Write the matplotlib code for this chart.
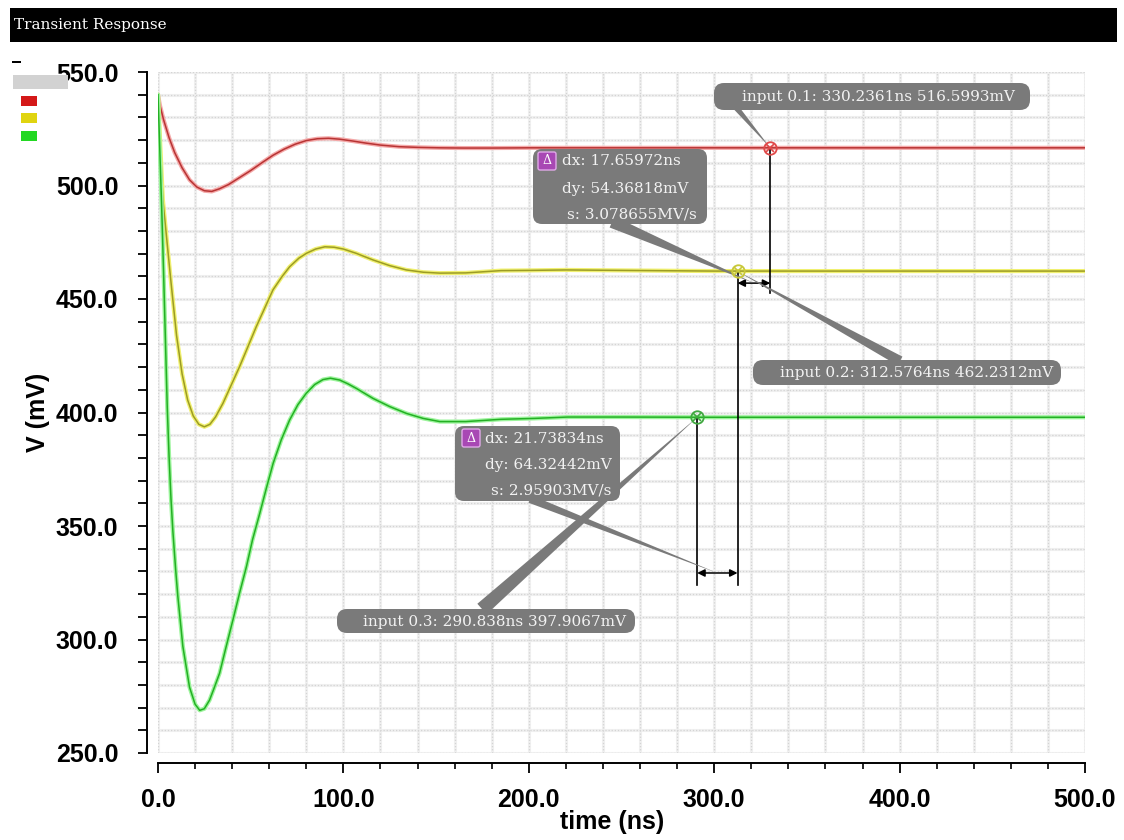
import numpy as np
import matplotlib
matplotlib.use("Agg")
import matplotlib.pyplot as plt
from matplotlib.patches import FancyBboxPatch, Polygon, Rectangle
from matplotlib.transforms import Affine2D

W, H = 1124, 840

# transient response traces (time in ns, V in mV)
t_red = [0, 1, 3, 6, 9, 13, 17, 21, 25, 29, 33, 38, 44, 50, 56, 62, 68, 74, 80,
         86, 92, 98, 105, 112, 120, 130, 140, 152, 165, 180, 200, 230, 260, 300,
         350, 400, 450, 500]
v_red = [540.0, 535.5, 529.0, 521.0, 514.5, 507.8, 502.5, 499.3, 497.7, 497.4,
         498.5, 500.4, 503.5, 506.6, 510.0, 513.3, 516.0, 518.2, 519.8, 520.6,
         520.8, 520.4, 519.6, 518.7, 517.8, 517.1, 516.8, 516.6, 516.5, 516.5,
         516.6, 516.6, 516.6, 516.6, 516.6, 516.6, 516.6, 516.6]

t_yel = [0, 1, 2.6, 4.4, 7, 10, 13, 16, 19, 22, 25, 28, 31, 35, 40, 44, 48, 53,
         58, 62, 67, 71, 76, 80, 85, 90, 95, 100, 107, 116, 125, 134, 143, 152,
         166, 185, 200, 220, 250, 300, 350, 400, 450, 500]
v_yel = [540.0, 522.0, 494.0, 479.0, 457.5, 434.0, 417.0, 405.5, 398.5, 394.8,
         393.7, 394.8, 398.0, 404.0, 413.0, 420.2, 428.0, 437.8, 446.8, 454.0,
         460.0, 464.2, 468.0, 470.1, 472.0, 473.0, 472.8, 472.0, 470.1, 467.2,
         464.7, 462.8, 461.8, 461.4, 461.5, 462.5, 462.6, 462.8, 462.6, 462.3,
         462.3, 462.3, 462.3, 462.3]

t_grn = [0, 1, 2, 3, 4, 5, 6, 7, 8, 9.5, 10.7, 13.4, 17, 20, 22.5, 25, 27.8, 30,
         33.2, 36.5, 40.4, 44, 47.7, 51, 54.9, 58.5, 62.1, 66.5, 71, 75.5, 80,
         84.5, 89, 93, 98, 102.5, 107, 111.5, 116, 125, 134, 143, 152, 166, 185,
         203, 221, 250, 300, 350, 400, 450, 500]
v_grn = [540.0, 515.0, 490.0, 462.0, 432.0, 402.0, 380.0, 362.0, 348.0, 331.0,
         319.0, 297.0, 279.0, 271.5, 268.8, 269.5, 273.3, 278.0, 285.1, 296.0,
         308.6, 320.5, 332.1, 344.0, 355.6, 366.8, 377.6, 388.0, 396.7, 403.5,
         408.5, 412.3, 414.5, 415.1, 414.3, 412.6, 410.6, 408.4, 406.2, 402.6,
         399.6, 397.4, 396.0, 396.0, 397.0, 397.4, 398.0, 398.0, 397.9, 397.9,
         397.9, 397.9, 397.9]

# cursor points and their readouts
cursor_t = [330.2361, 312.5764, 290.838]
cursor_v = [516.5993, 462.2312, 397.9067]
cursor_labels = ["input 0.1: 330.2361ns 516.5993mV",
                 "input 0.2: 312.5764ns 462.2312mV",
                 "input 0.3: 290.838ns 397.9067mV"]
delta_top = ["dx: 17.65972ns", "dy: 54.36818mV", "s: 3.078655MV/s"]
delta_bot = ["dx: 21.73834ns", "dy: 64.32442mV", "s: 2.95903MV/s"]

x_ticks = [0, 100, 200, 300, 400, 500]
y_ticks = [250, 300, 350, 400, 450, 500, 550]

plt.rcParams['font.family'] = ['Liberation Sans', 'DejaVu Sans']

fig = plt.figure(figsize=(W / 100, H / 100), dpi=100)
fig.patch.set_facecolor("white")
ax = fig.add_axes([158 / W, 1 - 753 / H, (1085 - 158) / W, (753 - 72) / H])
ax.set_xlim(0, 500)
ax.set_ylim(250, 550)

# pixel coords of the screenshot (origin top-left)
pix = Affine2D().scale(1 / W, -1 / H).translate(0, 1) + fig.transFigure


def to_pix(t, v):
    return pix.inverted().transform(ax.transData.transform((t, v)))


# grid: light solid under a dotted line, every 20 ns / 10 mV
gx = np.arange(0, 501, 20)
gy = np.arange(250, 551, 10)
ax.vlines(gx, 250, 550, color="#f0f0f0", lw=2.2, zorder=0)
ax.hlines(gy, 0, 500, color="#f0f0f0", lw=2.2, zorder=0)
ax.vlines(gx, 250, 550, color="#d4d4d4", lw=0.9, ls=(0, (1, 1.5)), zorder=0)
ax.hlines(gy, 0, 500, color="#d4d4d4", lw=0.9, ls=(0, (1, 1.5)), zorder=0)

# traces with a soft halo
traces = [(t_red, v_red, "#f4a8a8", "#b83434"),
          (t_yel, v_yel, "#f0f070", "#9c9c24"),
          (t_grn, v_grn, "#9cf49c", "#24b024")]
for t, v, halo, core in traces:
    ax.plot(t, v, color=halo, lw=3.0, zorder=2, solid_capstyle="round")
    ax.plot(t, v, color=core, lw=1.1, zorder=2)

# axes styling
for s in ("top", "right"):
    ax.spines[s].set_visible(False)
ax.spines["left"].set_position(("outward", 8))
ax.spines["bottom"].set_position(("outward", 7))
ax.spines["left"].set_linewidth(1.4)
ax.spines["bottom"].set_linewidth(1.4)

ax.set_xticks(x_ticks)
ax.set_xticks(gx, minor=True)
ax.set_yticks(y_ticks)
ax.set_yticks(gy, minor=True)
ax.set_xticklabels([f"{x:.1f}" for x in x_ticks])
ax.set_yticklabels([f"{y:.1f}" for y in y_ticks])
ax.tick_params(axis="x", which="major", length=7, width=1.3, pad=11,
               labelsize=18)
ax.tick_params(axis="x", which="minor", length=4.5, width=1.2)
ax.tick_params(axis="y", which="both", length=6.5, width=1.3)
ax.tick_params(axis="y", which="major", pad=14, labelsize=18)
for lbl in ax.get_xticklabels() + ax.get_yticklabels():
    lbl.set_fontweight("bold")

ax.set_xlabel("time (ns)", fontsize=18, fontweight="bold")
ax.set_ylabel("V (mV)", fontsize=18, fontweight="bold")
ax.xaxis.set_label_coords(0.49, -0.084)
ax.yaxis.set_label_coords(-0.116, 0.5)

# cursor lines and delta arrows
ax.plot([cursor_t[0]] * 2, [cursor_v[0], 452.6], color="black", lw=1.2, zorder=3)
ax.plot([cursor_t[1]] * 2, [cursor_v[1], 324.0], color="black", lw=1.2, zorder=3)
ax.plot([cursor_t[2]] * 2, [cursor_v[2], 324.0], color="black", lw=1.2, zorder=3)
arrow = dict(arrowstyle="<|-|>", color="black", lw=1.1, mutation_scale=11,
             shrinkA=0, shrinkB=0)
ax.annotate("", xy=(cursor_t[0], 457.0), xytext=(cursor_t[1], 457.0),
            arrowprops=arrow, zorder=3)
ax.annotate("", xy=(cursor_t[1], 329.3), xytext=(cursor_t[2], 329.3),
            arrowprops=arrow, zorder=3)

box_col = "#7a7a7a"
txt_col = "#f2f2f2"
serif = ["DejaVu Serif"]


def wedge(base, tip, half):
    bx, by = base
    tx, ty = tip
    dx, dy = tx - bx, ty - by
    n = np.hypot(dx, dy)
    ox, oy = -dy / n * half, dx / n * half
    p = Polygon([(bx + ox, by + oy), (bx - ox, by - oy), (tx, ty)],
                closed=True, transform=pix, fc=box_col, ec="none",
                clip_on=False, zorder=4)
    ax.add_patch(p)


def rbox(x0, y0, x1, y1, r=8):
    p = FancyBboxPatch((x0, y0), x1 - x0, y1 - y0,
                       boxstyle=f"round,pad=0,rounding_size={r}",
                       transform=pix, fc=box_col, ec="none",
                       clip_on=False, zorder=5)
    ax.add_patch(p)


def delta_icon(cx, cy):
    p = FancyBboxPatch((cx - 9, cy - 9), 18, 18,
                       boxstyle="round,pad=0,rounding_size=2",
                       transform=pix, fc="#a848b4", ec="#e0a8e8", lw=1,
                       clip_on=False, zorder=6)
    ax.add_patch(p)
    ax.text(cx, cy, "Δ", transform=pix, ha="center", va="center",
            color="white", fontsize=9, family=serif, zorder=7, clip_on=False)


# pointer wedges
mid_top = to_pix((cursor_t[0] + cursor_t[1]) / 2, 457.0)
mid_bot = to_pix((cursor_t[1] + cursor_t[2]) / 2, 329.3)
wedge((722, 91), to_pix(cursor_t[0], cursor_v[0]), 4)
wedge((900, 361), to_pix(cursor_t[1], cursor_v[1]), 5)
wedge((482, 609), to_pix(cursor_t[2], cursor_v[2]), 7)
wedge((612, 222), mid_top, 6)
wedge((530, 499), mid_bot, 4)

# readout labels
rbox(714, 83, 1030, 110, 10)
rbox(753, 360, 1061, 385, 10)
rbox(337, 609, 635, 633, 10)
for (x, y), s in zip([(742, 97), (780, 373), (363, 622)], cursor_labels):
    ax.text(x, y, s, transform=pix, ha="left", va="center", color=txt_col,
            fontsize=11, family=serif, zorder=6, clip_on=False)

# delta boxes
rbox(533, 149, 707, 224, 9)
delta_icon(547, 161)
for (x, y), s in zip([(562, 161), (562, 189), (567, 215)], delta_top):
    ax.text(x, y, s, transform=pix, ha="left", va="center", color=txt_col,
            fontsize=11, family=serif, zorder=6, clip_on=False)
rbox(455, 426, 620, 501, 9)
delta_icon(471, 438)
for (x, y), s in zip([(485, 439), (485, 465), (491, 490)], delta_bot):
    ax.text(x, y, s, transform=pix, ha="left", va="center", color=txt_col,
            fontsize=11, family=serif, zorder=6, clip_on=False)

# cursor markers
marker_cols = ["#e04848", "#c8c838", "#40a840"]
for t, v, c in zip(cursor_t, cursor_v, marker_cols):
    ax.plot(t, v, "o", mfc="none", mec=c, ms=9, mew=1.3, zorder=8, clip_on=False)
    ax.plot(t, v, "x", color=c, ms=6, mew=1.2, zorder=8, clip_on=False)

# window title bar
fig.add_artist(Rectangle((10, 8), 1107, 34, transform=pix, fc="black", ec="none"))
fig.text(14, 25, "Transient Response", transform=pix, color="white",
         fontsize=11, family=serif, va="center", ha="left")

# legend swatches top-left
fig.add_artist(Rectangle((12, 61), 9, 1.6, transform=pix, fc="black", ec="none"))
fig.add_artist(Rectangle((13, 75), 55, 14, transform=pix, fc="#d2d2d2", ec="none"))
for y0, c in zip([96, 113, 131], ["#d41818", "#e0d410", "#22d822"]):
    fig.add_artist(Rectangle((21, y0), 16, 10, transform=pix, fc=c, ec="none"))

fig.savefig("out.png", dpi=100)
